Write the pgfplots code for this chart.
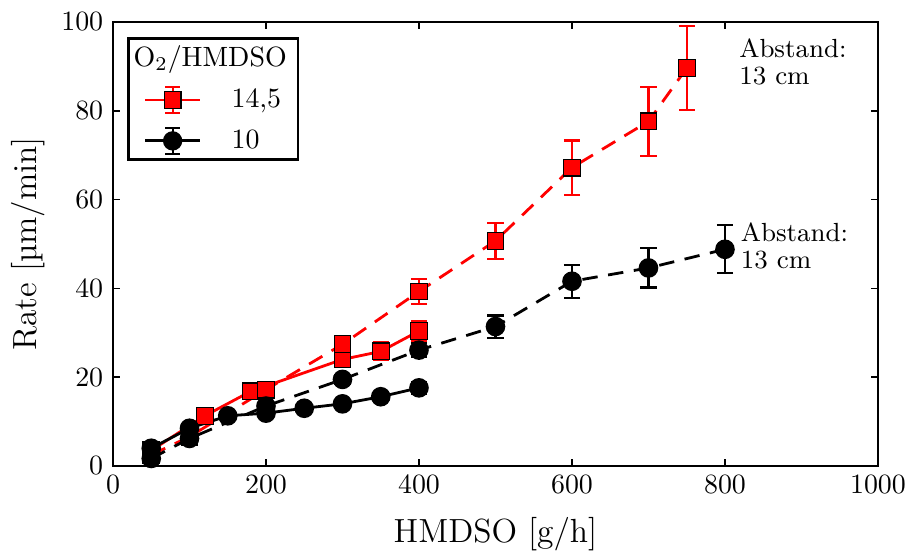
\documentclass[border=0pt]{standalone}
\usepackage{pgfplots}
\pgfplotsset{compat=1.18}
\usepackage{pgfplotstable}

% Deposition rate vs. HMDSO flow; solid = reference distance, dashed = 13 cm
\pgfplotstableread{
x    y     e
50   3.5   0.8
120  11.3  1.0
180  16.8  1.0
300  24.0  1.2
350  25.8  2.0
400  30.4  2.3
}\redsolid
\pgfplotstableread{
x    y     e
50   2.5   0.8
100  6.6   1.0
200  17.2  1.0
300  27.4  1.2
400  39.3  2.8
500  50.7  4.0
600  67.2  6.1
700  77.6  7.8
750  89.6  9.4
}\reddashed
\pgfplotstableread{
x    y     e
50   4.0   0.8
100  8.5   0.8
150  11.3  0.8
200  11.9  0.8
250  13.0  0.8
300  14.0  0.8
350  15.6  1.0
400  17.6  1.3
}\blacksolid
\pgfplotstableread{
x    y     e
50   1.7   0.8
100  6.2   0.8
200  13.5  0.8
300  19.5  1.0
400  26.1  1.6
500  31.4  2.5
600  41.6  3.7
700  44.6  4.4
800  48.8  5.4
}\blackdashed

\pgfplotsset{
  ratestyle/.style={
    line width=1bp,
    error bars/y dir=both, error bars/y explicit,
    error bars/error bar style={line width=0.75bp, solid},
    error bars/error mark options={rotate=90, mark size=2.9bp, line width=0.75bp, solid},
  },
  redseries/.style={ratestyle, color=red, mark=square*,
    mark options={solid, fill=red, draw=black, line width=0.4bp}, mark size=3bp},
  blackseries/.style={ratestyle, color=black, mark=*,
    mark options={solid, fill=black, draw=black}, mark size=3bp},
  mydash/.style={dash pattern=on 5.5bp off 3.8bp},
}

\begin{document}
\begin{tikzpicture}
\path[use as bounding box] (-40.36bp,-31.07bp) rectangle (283.57bp,166.43bp);
\begin{axis}[
  scale only axis,
  width=273.2bp, height=158.6bp,
  xmin=0, xmax=1000, ymin=0, ymax=100,
  xtick={0,200,...,1000}, ytick={0,20,...,100},
  /pgf/number format/1000 sep={},
  minor tick num=0,
  tick align=inside,
  major tick length=2.4bp,
  every tick/.style={black, line width=0.6bp},
  axis line style={line width=0.9bp},
  tick label style={font=\fontsize{10.3}{12}\selectfont},
  label style={font=\fontsize{12}{14}\selectfont},
  xlabel={HMDSO [g/h]},
  ylabel={Rate [µm/min]},
  xlabel style={at={(axis description cs:0.5,-0.172)}, anchor=base},
  ylabel style={at={(axis description cs:-0.111,0.5)}, anchor=center},
  legend style={
    at={(0,1)}, anchor=north west, xshift=5bp, yshift=-5.4bp,
    draw=black, line width=0.9bp, fill=white,
    font=\fontsize{10}{12}\selectfont,
    inner xsep=2bp, inner ysep=0.6bp, row sep=2.4bp,
  },
  legend cell align=left,
  clip=false,
]
% legend heading and entries
\addlegendimage{empty legend}
\addlegendentry{\hspace{-35bp}O$_2$/HMDSO\hspace{-2bp}}
\addlegendimage{legend image code/.code={
  \path (0bp,0bp) (32bp,0bp);
  \draw[red, line width=1bp] (3.6bp,0bp) -- (23.2bp,0bp);
  \draw[red, line width=0.75bp] (13.4bp,-4.6bp) -- (13.4bp,4.6bp)
       (10.8bp,-4.6bp) -- (16bp,-4.6bp) (10.8bp,4.6bp) -- (16bp,4.6bp);
  \draw[black, fill=red, line width=0.4bp] (10.4bp,-3bp) rectangle (16.4bp,3bp);
}}
\addlegendentry{14,5}
\addlegendimage{legend image code/.code={
  \path (0bp,0bp) (32bp,0bp);
  \draw[black, line width=1bp] (3.6bp,0bp) -- (23.2bp,0bp);
  \draw[black, line width=0.75bp] (13.4bp,-4.6bp) -- (13.4bp,4.6bp)
       (10.8bp,-4.6bp) -- (16bp,-4.6bp) (10.8bp,4.6bp) -- (16bp,4.6bp);
  \fill[black] (13.4bp,0bp) circle (3bp);
}}
\addlegendentry{10}

\addplot[redseries, forget plot] table[x=x, y=y, y error=e] {\redsolid};
\addplot[redseries, mydash, forget plot] table[x=x, y=y, y error=e] {\reddashed};
\addplot[blackseries, forget plot] table[x=x, y=y, y error=e] {\blacksolid};
\addplot[blackseries, mydash, forget plot] table[x=x, y=y, y error=e] {\blackdashed};

\node[anchor=base west, inner sep=0pt, align=left,
      font=\fontsize{9.4}{9.6}\selectfont] at (axis cs:818,86.0) {Abstand:\\13 cm};
\node[anchor=base west, inner sep=0pt, align=left,
      font=\fontsize{9.4}{9.6}\selectfont] at (axis cs:820,44.5) {Abstand:\\13 cm};
\end{axis}
\end{tikzpicture}
\end{document}
